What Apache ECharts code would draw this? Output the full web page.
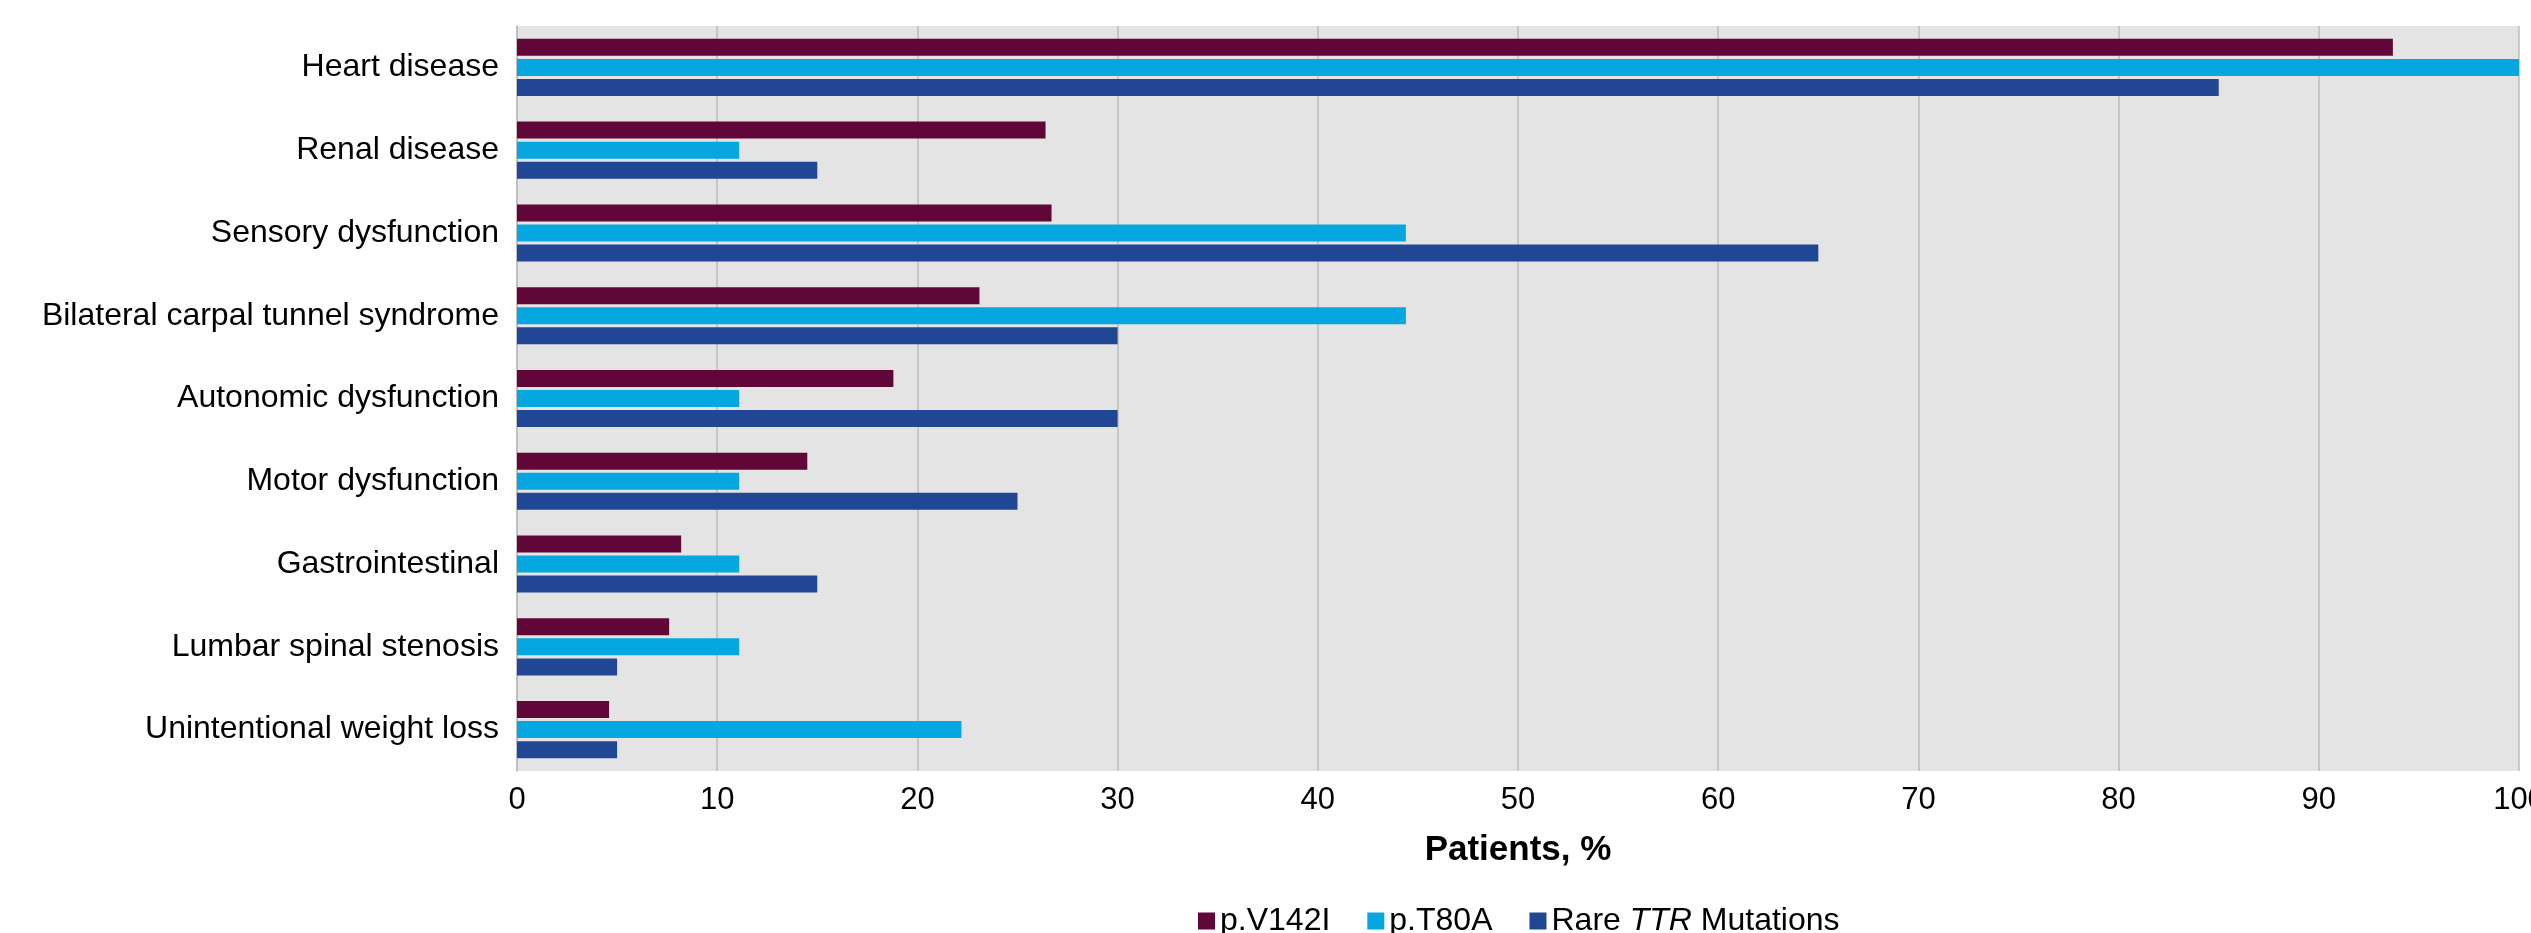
<!DOCTYPE html>
<html>
<head>
<meta charset="utf-8">
<script src="https://cdn.jsdelivr.net/npm/echarts@6/dist/echarts.min.js"></script>
<style>
  html, body { margin: 0; padding: 0; background: #ffffff; }
  #chart { width: 2531px; height: 933px; }
</style>
</head>
<body>
<div id="chart"></div>
<script>
// Clinical manifestations by TTR genotype (percent of patients)
const categories = [
  'Heart disease',
  'Renal disease',
  'Sensory dysfunction',
  'Bilateral carpal tunnel syndrome',
  'Autonomic dysfunction',
  'Motor dysfunction',
  'Gastrointestinal',
  'Lumbar spinal stenosis',
  'Unintentional weight loss'
];
const seriesNames = ['p.V142I', 'p.T80A', 'Rare TTR Mutations'];
const v142i = [93.7, 26.4, 26.7, 23.1, 18.8, 14.5, 8.2, 7.6, 4.6];
const t80a = [100, 11.1, 44.4, 44.4, 11.1, 11.1, 11.1, 11.1, 22.2];
const rareTTR = [85, 15, 65, 30, 30, 25, 15, 5, 5];
const xTicks = { min: 0, max: 100, interval: 10 };
const colors = ['#610737', '#06A7E0', '#204694'];

const FONT = "'Liberation Sans', Arial, sans-serif";
const chart = echarts.init(document.getElementById('chart'), null, { renderer: 'canvas' });

const seriesData = [v142i, t80a, rareTTR];

chart.setOption({
  animation: false,
  backgroundColor: '#ffffff',
  textStyle: { fontFamily: FONT },
  grid: {
    left: 517, right: 12, top: 26, bottom: 162,
    show: true, backgroundColor: '#E4E4E4', borderWidth: 0,
    containLabel: false,
    outerBoundsMode: 'none'
  },
  xAxis: {
    type: 'value',
    min: xTicks.min, max: xTicks.max, interval: xTicks.interval,
    name: 'Patients, %',
    nameLocation: 'middle',
    nameGap: 62,
    nameTextStyle: { fontFamily: FONT, fontSize: 35, fontWeight: 'bold', color: '#000' },
    axisLine: { show: false },
    axisTick: { show: false },
    axisLabel: { fontFamily: FONT, fontSize: 31, color: '#000', margin: 14, hideOverlap: false },
    splitLine: { show: true, lineStyle: { color: '#BDBDBD', width: 1.5 } }
  },
  yAxis: {
    type: 'category',
    data: categories,
    inverse: true,
    axisLine: { show: true, lineStyle: { color: '#BDBDBD', width: 1.5 } },
    axisTick: { show: false },
    axisLabel: { fontFamily: FONT, fontSize: 32, color: '#000', margin: 18 },
    splitLine: { show: false }
  },
  legend: {
    left: 1198,
    top: 905,
    padding: 0,
    icon: 'rect',
    itemWidth: 17,
    itemHeight: 17,
    itemGap: 37,
    data: seriesNames,
    formatter: function (name) {
      return name === 'Rare TTR Mutations' ? 'Rare {i|TTR} Mutations' : name;
    },
    textStyle: {
      fontFamily: FONT, fontSize: 32, color: '#000',
      rich: { i: { fontFamily: FONT, fontSize: 32, fontStyle: 'italic', color: '#000' } }
    }
  },
  series: seriesNames.map(function (name, i) {
    return {
      name: name,
      type: 'bar',
      data: seriesData[i],
      barWidth: 17,
      barGap: '18%',
      itemStyle: { color: colors[i] }
    };
  })
});
</script>
</body>
</html>
